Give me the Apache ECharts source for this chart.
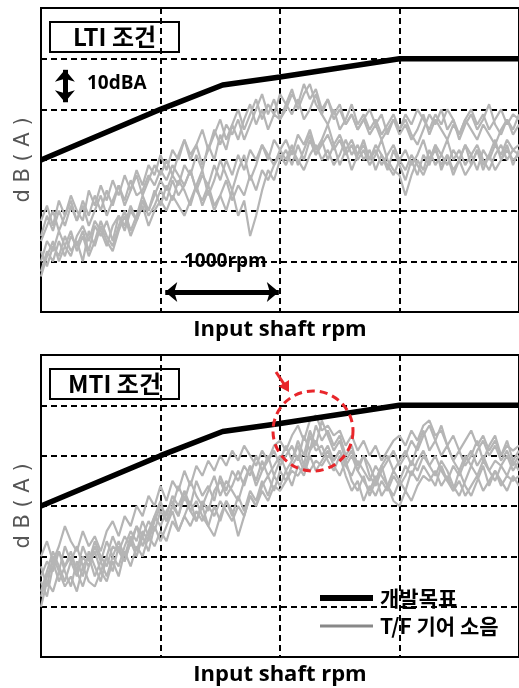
<!DOCTYPE html>
<html>
<head>
<meta charset="utf-8">
<script src="https://cdn.jsdelivr.net/npm/echarts@6/dist/echarts.min.js"></script>
<style>
  html, body { margin: 0; padding: 0; background: #fff; }
  #chart { width: 519px; height: 688px; }
</style>
</head>
<body>
<div id="chart"></div>
<script>
var chart = echarts.init(document.getElementById('chart'));

// x: rpm offset in 1000 rpm, sampled every 50 rpm
var xs = [];
for (var i = 0; i <= 80; i++) xs.push(+(i * 0.05).toFixed(2));

// development target (same in both panels)
var targetX = [0, 1, 1.52, 2, 3, 4];
var targetY = [30, 40, 44.8, 46.4, 50, 50];

// LTI gear noise traces
var lti1 = [18,21,17,22,19,23,20,18,24,21,25,22,26,23,27,24,28,25,29,27,31,
  28,32,30,34,31,33,36,32,35,38,34,37,40,36,39,42,38,41,39,43,
  41,44,40,43,45,41,39,42,38,40,37,39,36,38,40,37,39,35,38,36,
  39,37,40,38,36,39,37,40,38,35,38,40,37,39,36,38,40,37,39,38];
var lti2 = [10,14,12,16,13,11,15,17,14,18,16,13,17,19,16,20,18,22,19,21,24,
  22,26,23,25,28,24,27,25,29,26,30,27,31,28,32,30,33,31,29,32,
  34,31,35,33,36,32,34,37,33,35,32,34,31,33,30,32,29,31,33,30,
  32,29,31,34,30,33,31,29,32,30,33,31,28,32,30,33,31,34,32,33];
var lti3 = [15,19,16,20,17,21,18,22,19,23,20,24,21,25,22,26,23,24,27,25,28,
  26,29,27,25,28,24,22,25,21,23,20,24,19,22,15,19,24,28,26,30,
  32,29,33,30,34,31,33,35,32,34,31,33,30,32,29,31,34,30,28,27,
  23,27,30,28,32,29,31,34,30,32,29,31,33,30,28,31,33,30,32,31];
var lti4 = [8,12,10,14,11,15,13,16,12,17,15,18,14,19,17,21,18,22,20,23,26,
  24,27,25,29,27,31,28,33,30,35,32,37,34,38,41,37,40,36,39,38,
  40,43,41,45,42,44,40,42,39,41,37,39,36,38,35,37,34,36,38,35,
  37,34,36,39,35,38,36,34,37,35,38,36,34,37,35,33,36,38,35,37];
var lti5 = [12,9,13,11,15,12,14,10,16,13,17,14,12,16,19,15,18,21,17,20,22,
  20,23,21,19,22,25,21,24,20,23,26,22,25,23,27,24,28,26,29,31,
  29,32,30,28,31,33,30,32,29,31,34,31,33,30,32,28,31,29,27,30,
  28,31,29,27,30,32,29,31,28,30,27,29,32,29,31,28,30,32,30,31];
var lti6 = [14,17,20,16,19,22,18,21,17,20,23,19,22,25,21,24,27,23,26,29,27,
  30,27,31,34,30,33,29,32,36,33,37,35,38,34,37,40,43,39,42,38,
  41,39,42,38,40,43,39,37,40,36,38,41,37,39,36,38,35,37,39,36,
  38,35,33,36,39,37,40,36,38,34,37,39,36,38,41,37,35,38,36,39];
var lti7 = [7,11,14,10,13,16,12,15,11,14,18,15,13,17,20,16,19,23,20,24,21,
  25,22,26,24,21,25,28,23,26,30,27,24,28,31,26,29,33,30,34,32,
  30,33,29,32,35,31,34,30,33,29,32,28,31,34,30,33,31,28,32,29,
  26,30,27,31,29,33,28,31,27,30,33,29,32,28,31,34,30,33,29,32];

// MTI gear noise traces
var mti1 = [20,23,19,22,26,23,21,25,22,24,21,25,27,24,28,26,30,28,32,30,34,
  31,35,33,37,34,38,36,39,37,40,38,41,39,42,40,38,41,39,42,43,
  41,44,46,43,47,48,45,46,44,45,42,44,41,43,40,42,39,41,43,44,
  42,45,43,46,47,44,45,42,44,41,43,45,42,44,41,43,40,42,41,42];
var mti2 = [10,15,13,17,14,16,13,18,15,14,17,15,19,16,21,18,22,20,24,22,25,
  23,27,25,28,26,29,27,30,28,31,29,27,30,28,32,30,33,31,34,33,
  35,37,36,38,37,39,38,40,39,41,38,40,37,35,33,36,32,34,31,30,
  33,31,34,36,35,37,34,36,33,35,32,34,36,33,35,37,34,36,35,36];
var mti3 = [16,19,17,21,18,20,17,22,19,23,20,18,22,21,24,22,26,24,27,25,29,
  27,30,28,32,29,31,28,26,30,27,31,29,24,28,32,30,34,36,33,37,
  35,38,40,37,41,43,40,42,39,41,38,36,39,37,35,38,36,34,37,35,
  38,36,39,41,38,40,37,35,38,36,39,41,38,40,37,39,38,40,37,39];
var mti4 = [13,17,21,18,15,19,22,18,20,16,19,23,20,18,22,25,23,27,24,28,26,
  29,31,28,33,30,35,32,34,31,36,33,37,35,38,36,40,37,39,41,38,
  40,42,39,44,41,46,43,45,42,44,40,42,38,40,36,34,37,39,41,38,
  40,43,41,44,46,43,40,42,39,37,40,38,41,43,40,42,39,41,38,40];
var mti5 = [18,14,20,17,22,19,16,20,18,22,19,16,20,23,20,24,21,25,23,27,30,
  28,32,30,33,29,27,31,29,33,35,32,34,37,34,38,35,39,36,38,40,
  37,39,42,38,44,41,42,39,37,40,36,33,35,31,34,32,35,33,36,34,
  36,39,37,40,38,36,39,37,34,32,35,38,36,39,37,35,38,36,39,37];
var mti6 = [12,16,19,15,18,21,17,14,18,21,17,20,24,21,19,23,26,22,25,28,31,
  27,30,34,31,35,32,30,33,36,32,35,33,31,35,38,34,37,40,36,39,
  42,39,43,40,45,42,47,44,41,43,39,41,37,40,38,35,38,40,37,39,
  41,38,42,45,41,43,46,42,39,41,38,40,43,39,42,44,40,43,39,41];
var mti7 = [15,12,18,21,17,14,19,16,21,18,15,20,17,22,19,23,20,24,21,26,23,
  26,29,25,28,31,27,30,26,24,28,31,28,32,29,33,31,35,32,36,34,
  37,34,38,36,40,37,39,41,38,36,39,35,33,36,32,35,38,34,32,35,
  33,37,35,38,36,34,38,35,33,37,34,32,35,38,34,37,35,33,36,34];

var ltiTraces = [lti1, lti2, lti3, lti4, lti5, lti6, lti7];
var mtiTraces = [mti1, mti2, mti3, mti4, mti5, mti6, mti7];

var targetName = '개발목표';
var noiseName = 'T/F 기어 소음';

function pairs(xArr, yArr) {
  var out = [];
  for (var k = 0; k < yArr.length; k++) out.push([xArr[k], yArr[k]]);
  return out;
}

var dash = { color: '#000', width: 2, type: [6, 4] };

function makeX(idx, gap) {
  return {
    type: 'value', gridIndex: idx, min: 0, max: 4, interval: 1,
    axisLine: { show: false }, axisTick: { show: false }, axisLabel: { show: false },
    splitLine: { show: true, lineStyle: dash },
    name: 'Input shaft rpm', nameLocation: 'middle', nameGap: gap,
    nameTextStyle: { fontFamily: 'Open Sans', fontWeight: 'bold', fontSize: 22, color: '#000' }
  };
}
function makeY(idx) {
  return {
    type: 'value', gridIndex: idx, min: 0, max: 60, interval: 10,
    axisLine: { show: false }, axisTick: { show: false }, axisLabel: { show: false },
    splitLine: { show: true, lineStyle: dash },
    name: 'd B ( A )', nameLocation: 'middle', nameGap: 7, nameRotate: 90,
    nameTextStyle: { fontFamily: 'DejaVu Sans', fontSize: 21, color: '#555' }
  };
}

var series = [];
[ltiTraces, mtiTraces].forEach(function (traces, g) {
  traces.forEach(function (tr) {
    series.push({
      name: noiseName, type: 'line', xAxisIndex: g, yAxisIndex: g,
      data: pairs(xs, tr), symbol: 'none', silent: true,
      lineStyle: { color: '#b5b5b5', width: 2.2 }, itemStyle: { color: '#b5b5b5' }, z: 2
    });
  });
  series.push({
    name: targetName, type: 'line', xAxisIndex: g, yAxisIndex: g,
    data: pairs(targetX, targetY), symbol: 'none', silent: true,
    lineStyle: { color: '#000', width: 5.5 }, itemStyle: { color: '#000' }, z: 5,
    markLine: g === 0 ? {
      silent: true, symbol: ['arrow', 'arrow'], symbolSize: [15, 12],
      label: { show: false },
      lineStyle: { color: '#000', width: 5, type: 'solid' },
      data: [
        [{ coord: [1.04, 3.95] }, { coord: [1.99, 3.95] }],
        [{ coord: [0.2, 47.8] }, { coord: [0.2, 41.4] }]
      ]
    } : undefined
  });
});

function tagBox(y, label) {
  return {
    type: 'group', left: 49, top: y,
    children: [
      { type: 'rect', shape: { x: 0, y: 0, width: 129, height: 30 },
        style: { fill: '#fff', stroke: '#000', lineWidth: 2 } },
      { type: 'text', x: 64.5, y: 15,
        style: { text: label, fill: '#000', font: 'bold 24px "Noto Sans CJK KR"',
                 align: 'center', verticalAlign: 'middle' } }
    ]
  };
}

var option = {
  animation: false,
  backgroundColor: '#fff',
  grid: [
    { left: 41, top: 8, width: 478, height: 304, show: true, borderColor: '#000', borderWidth: 2, backgroundColor: 'transparent' },
    { left: 41, top: 355, width: 478, height: 302, show: true, borderColor: '#000', borderWidth: 2, backgroundColor: 'transparent' }
  ],
  xAxis: [makeX(0, 7), makeX(1, 7)],
  yAxis: [makeY(0), makeY(1)],
  legend: {
    orient: 'vertical', left: 312, top: 581,
    itemWidth: 53, itemHeight: 14, itemGap: 4,
    textStyle: { fontFamily: '"Noto Sans CJK KR"', fontWeight: 'bold', fontSize: 21, color: '#000',
                 lineHeight: 24, padding: [0, 0, 0, 2] },
    data: [
      { name: targetName, lineStyle: { color: '#000', width: 6 }, itemStyle: { opacity: 0 } },
      { name: noiseName, lineStyle: { color: '#888', width: 3 }, itemStyle: { opacity: 0 } }
    ],
    selectedMode: false
  },
  graphic: [
    tagBox(21, 'LTI 조건'),
    tagBox(368, 'MTI 조건'),
    { type: 'text', left: 87, top: 74,
      style: { text: '10dBA', fill: '#000', font: 'bold 19px "Open Sans"' } },
    { type: 'text', left: 182, top: 252,
      style: { text: '1000rpm', fill: '#000', font: 'bold 19px "Open Sans"',
               backgroundColor: '#fff', padding: [0, 2] } },
    { type: 'circle', shape: { cx: 313, cy: 431, r: 40 }, z: 20,
      style: { fill: 'none', stroke: '#e8262b', lineWidth: 3, lineDash: [8, 5] } },
    { type: 'line', shape: { x1: 276, y1: 372, x2: 284, y2: 384 }, z: 20,
      style: { stroke: '#e8262b', lineWidth: 3 } },
    { type: 'polygon', shape: { points: [[289, 392], [289, 380], [278.5, 386.5]] }, z: 20,
      style: { fill: '#e8262b' } }
  ],
  series: series
};

chart.setOption(option);
</script>
</body>
</html>
